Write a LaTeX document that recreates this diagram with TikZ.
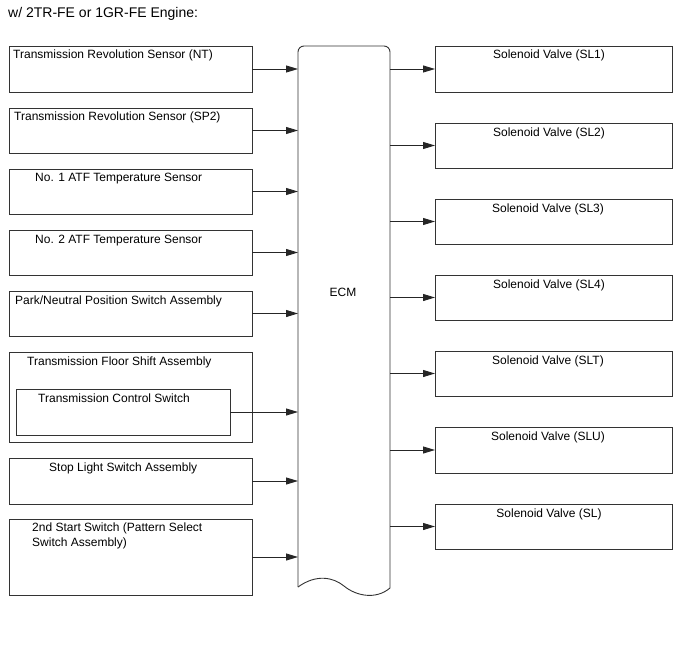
\documentclass[tikz,border=0pt]{standalone}
\usepackage{fontspec}
\setmainfont{Liberation Sans}
\usetikzlibrary{arrows.meta}
\begin{document}
\begin{tikzpicture}[x=1pt,y=-1pt,
  box/.style={draw=black!80, line width=0.9pt, inner sep=0pt, outer sep=0pt, anchor=north west},
  txt/.style={inner sep=0pt, anchor=base west, font=\fontsize{12}{15}\selectfont},
  ctxt/.style={inner sep=0pt, anchor=base, font=\fontsize{12}{15}\selectfont},
  arr/.style={draw=black!85, line width=0.9pt, -{Triangle[length=12pt,width=7pt]}}]
\useasboundingbox (0,0) rectangle (688,658);
\fill[white] (0,0) rectangle (688,658);
\node[inner sep=0pt, anchor=base west, font=\fontsize{14}{16}\selectfont] (title) at (8,18) {w/ 2TR-FE or 1GR-FE Engine:};
% left boxes
\node[box, minimum width=243pt, minimum height=46pt] (l1) at (9,46) {};
\node[box, minimum width=243pt, minimum height=45pt] (l2) at (9,108) {};
\node[box, minimum width=243pt, minimum height=45pt] (l3) at (9,169) {};
\node[box, minimum width=243pt, minimum height=45pt] (l4) at (9,230) {};
\node[box, minimum width=243pt, minimum height=45pt] (l5) at (9,291) {};
\node[box, minimum width=243pt, minimum height=90pt] (l6) at (9,352) {};
\node[box, minimum width=214pt, minimum height=46pt] (l6i) at (16,389) {};
\node[box, minimum width=243pt, minimum height=46pt] (l7) at (9,458) {};
\node[box, minimum width=243pt, minimum height=76pt] (l8) at (9,519) {};
\node[txt] (t1) at (13,59) {Transmission Revolution Sensor (NT)};
\node[txt] (t2) at (14,121) {Transmission Revolution Sensor (SP2)};
\node[txt] (t3) at (35,182) {No. 1 ATF Temperature Sensor};
\node[txt] (t4) at (35,243) {No. 2 ATF Temperature Sensor};
\node[txt] (t5) at (15,304) {Park/Neutral Position Switch Assembly};
\node[txt] (t6) at (27,365) {Transmission Floor Shift Assembly};
\node[txt] (t6i) at (38,402) {Transmission Control Switch};
\node[txt] (t7) at (49,471) {Stop Light Switch Assembly};
\node[txt] (t8a) at (32,531) {2nd Start Switch (Pattern Select};
\node[txt] (t8b) at (32,546) {Switch Assembly)};
% ECM
\node[inner sep=0pt, outer sep=0pt, anchor=north west, minimum width=92pt, minimum height=549pt] (ecm) at (298,46) {};
\draw[black!80, line width=0.9pt, rounded corners=6pt] (298,587) -- (298,46) -- (390,46) -- (390,588);
\draw[black!80, line width=0.9pt] (298,587) .. controls (316,574) and (333,577) .. (344,586) .. controls (356,596) and (376,600) .. (390,588);
\node[ctxt] (ecmt) at (343,296) {ECM};
% right boxes
\node[box, minimum width=237pt, minimum height=46pt] (r1) at (435,46) {};
\node[box, minimum width=237pt, minimum height=45pt] (r2) at (435,123) {};
\node[box, minimum width=237pt, minimum height=45pt] (r3) at (435,199) {};
\node[box, minimum width=237pt, minimum height=45pt] (r4) at (435,275) {};
\node[box, minimum width=237pt, minimum height=45pt] (r5) at (435,351) {};
\node[box, minimum width=237pt, minimum height=46pt] (r6) at (435,427) {};
\node[box, minimum width=237pt, minimum height=45pt] (r7) at (435,504) {};
\node[ctxt] (s1) at (549,59) {Solenoid Valve (SL1)};
\node[ctxt] (s2) at (549,136) {Solenoid Valve (SL2)};
\node[ctxt] (s3) at (548,212) {Solenoid Valve (SL3)};
\node[ctxt] (s4) at (549,288) {Solenoid Valve (SL4)};
\node[ctxt] (s5) at (548,364) {Solenoid Valve (SLT)};
\node[ctxt] (s6) at (548,440) {Solenoid Valve (SLU)};
\node[ctxt] (s7) at (549,517) {Solenoid Valve (SL)};
% arrows in
\draw[arr] (l1.east) -- (l1.east -| ecm.west);
\draw[arr] (l2.east) -- (l2.east -| ecm.west);
\draw[arr] (l3.east) -- (l3.east -| ecm.west);
\draw[arr] (l4.east) -- (l4.east -| ecm.west);
\draw[arr] (l5.east) -- (l5.east -| ecm.west);
\draw[arr] (l6i.east) -- (l6i.east -| ecm.west);
\draw[arr] (l7.east) -- (l7.east -| ecm.west);
\draw[arr] (l8.east) -- (l8.east -| ecm.west);
% arrows out
\draw[arr] (r1.west -| ecm.east) -- (r1.west);
\draw[arr] (r2.west -| ecm.east) -- (r2.west);
\draw[arr] (r3.west -| ecm.east) -- (r3.west);
\draw[arr] (r4.west -| ecm.east) -- (r4.west);
\draw[arr] (r5.west -| ecm.east) -- (r5.west);
\draw[arr] (r6.west -| ecm.east) -- (r6.west);
\draw[arr] (r7.west -| ecm.east) -- (r7.west);
\end{tikzpicture}
\end{document}
